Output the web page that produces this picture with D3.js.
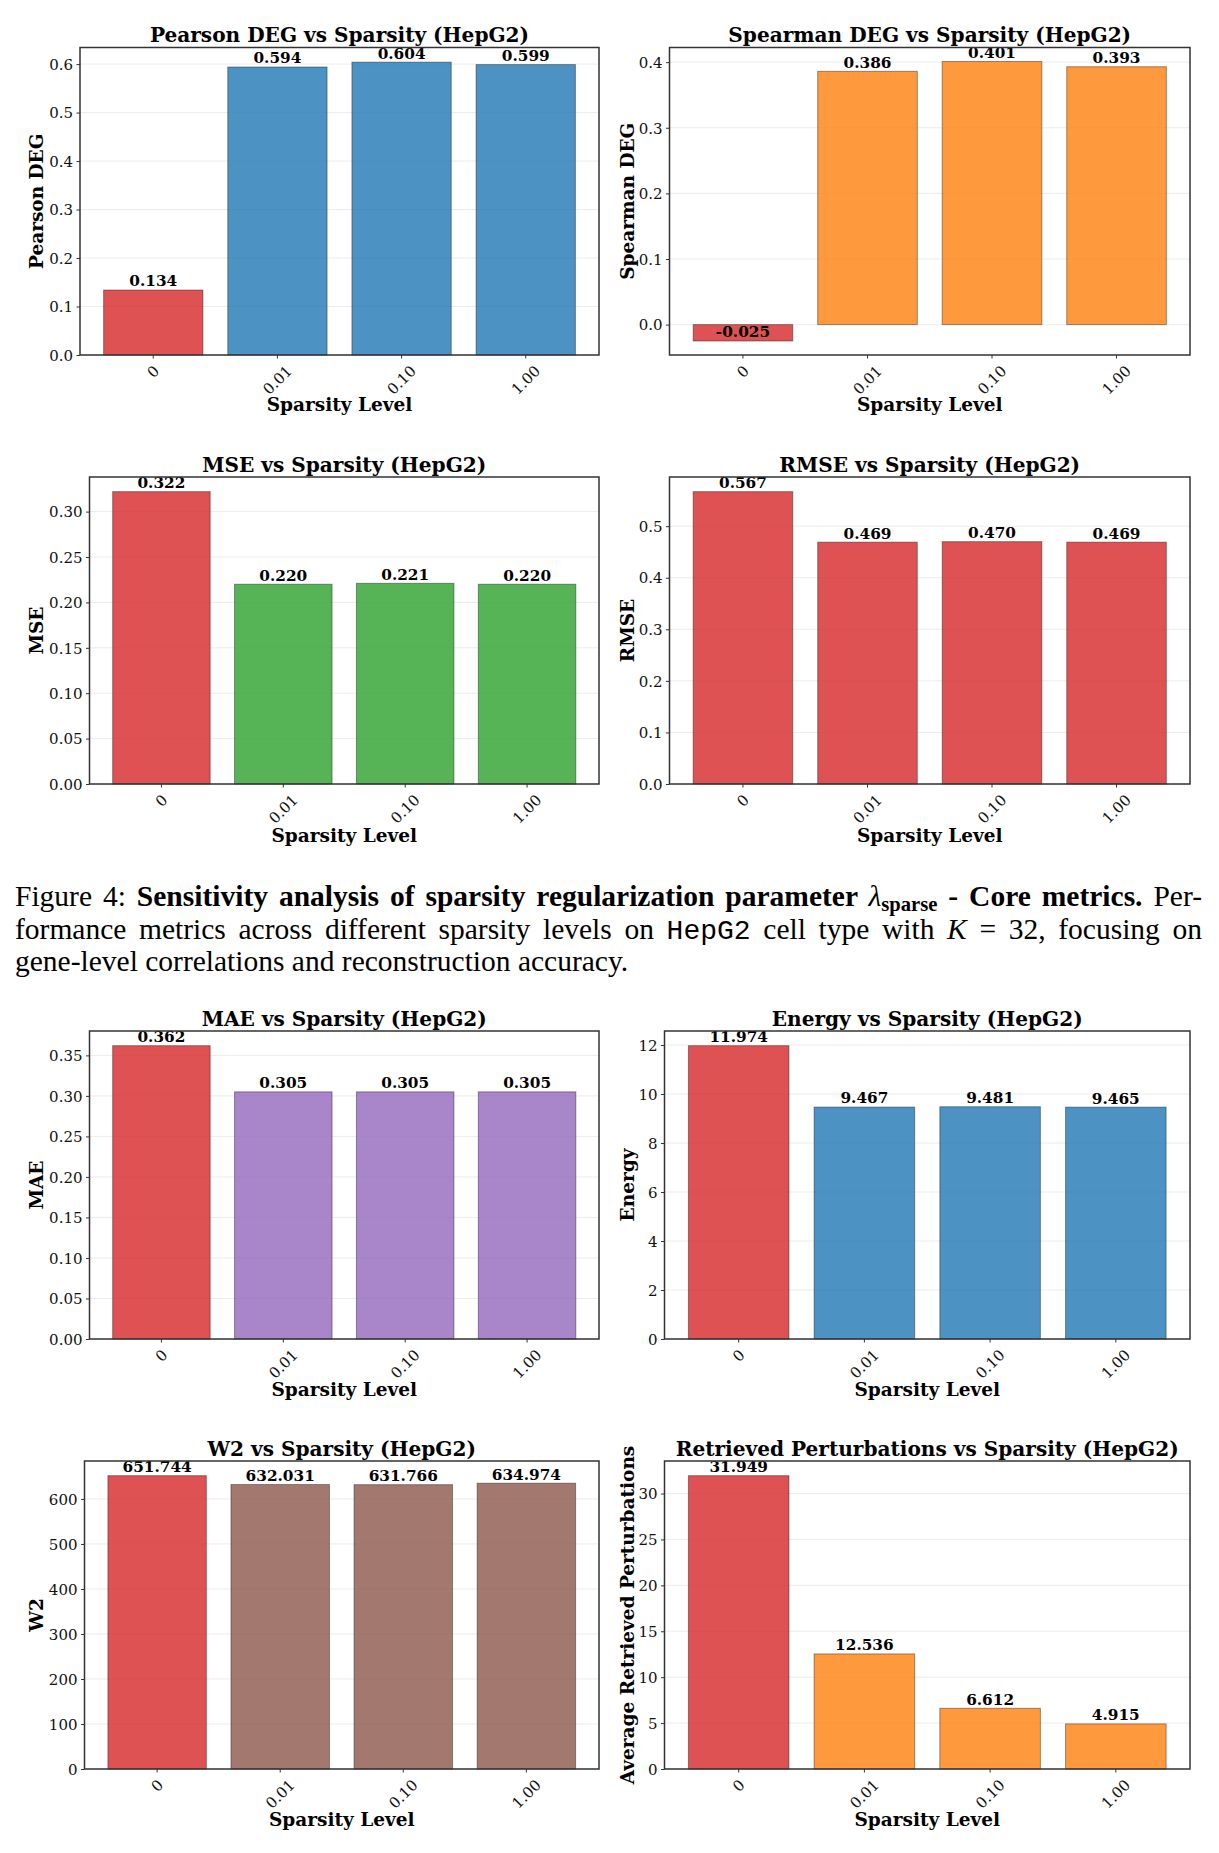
<!DOCTYPE html>
<html>
<head>
<meta charset="utf-8">
<script src="https://cdn.jsdelivr.net/npm/d3@7"></script>
<style>
  body { margin: 0; background: #fff; }
  #page { position: relative; width: 1219px; height: 1853px; overflow: hidden; background: #fff; }
  #chart { position: absolute; left: 0; top: 0; }
  .cap {
    position: absolute; left: 15px; width: 1187px;
    font-family: "Liberation Serif", "Times New Roman", serif;
    font-size: 29.5px; line-height: 30px; color: #000;
    text-align: justify; text-align-last: justify;
  }
  .cap .tt { font-family: "Liberation Mono", monospace; font-size: 0.95em; }
  .cap .sub { font-size: 0.7em; font-weight: bold; vertical-align: -0.22em; }
</style>
</head>
<body>
<div id="page">
  <svg id="chart" width="1219" height="1853"></svg>
  <div class="cap" style="top:881px">Figure 4: <b>Sensitivity analysis of sparsity regularization parameter <i style="font-weight:normal">λ</i><span class="sub">sparse</span> - Core metrics.</b> Per-</div>
  <div class="cap" style="top:913.5px">formance metrics across different sparsity levels on <span class="tt">HepG2</span> cell type with <i>K</i> = 32, focusing on</div>
  <div class="cap" style="top:946px; text-align-last: left">gene-level correlations and reconstruction accuracy.</div>
</div>
<script>
// sparsity levels on the x axis
var categories = ['0', '0.01', '0.10', '1.00'];

// metric values per sparsity level
var pearsonDeg = [0.134, 0.594, 0.604, 0.599];
var spearmanDeg = [-0.025, 0.386, 0.401, 0.393];
var mseVals = [0.322, 0.220, 0.221, 0.220];
var rmseVals = [0.567, 0.469, 0.470, 0.469];
var maeVals = [0.362, 0.305, 0.305, 0.305];
var energyVals = [11.974, 9.467, 9.481, 9.465];
var w2Vals = [651.744, 632.031, 631.766, 634.974];
var retrievedVals = [31.949, 12.536, 6.612, 4.915];

var titles = ['Pearson DEG vs Sparsity (HepG2)', 'Spearman DEG vs Sparsity (HepG2)',
  'MSE vs Sparsity (HepG2)', 'RMSE vs Sparsity (HepG2)',
  'MAE vs Sparsity (HepG2)', 'Energy vs Sparsity (HepG2)',
  'W2 vs Sparsity (HepG2)', 'Retrieved Perturbations vs Sparsity (HepG2)'];
var yLabels = ['Pearson DEG', 'Spearman DEG', 'MSE', 'RMSE', 'MAE', 'Energy', 'W2',
  'Average Retrieved Perturbations'];
var series = [pearsonDeg, spearmanDeg, mseVals, rmseVals, maeVals, energyVals, w2Vals, retrievedVals];
var tickSteps = [0.1, 0.1, 0.05, 0.1, 0.05, 2, 100, 5];
var tickFormats = ['.1f', '.1f', '.2f', '.1f', '.2f', 'd', 'd', 'd'];

var baselineColor = '#d62728';
var barColors = ['#1f77b4', '#ff7f0e', '#2ca02c', '#d62728', '#9467bd', '#1f77b4', '#8c564b', '#ff7f0e'];

// panel boxes: [left, top, right, bottom], title baseline, x label baseline, y label centre
var layout = [
  { box: [80, 47.5, 599, 355], titleY: 42, xlabY: 411, ylabX: 37 },
  { box: [669.5, 47.5, 1190, 355], titleY: 42, xlabY: 411, ylabX: 627.5 },
  { box: [89.5, 477, 599, 784], titleY: 471.5, xlabY: 841.5, ylabX: 37 },
  { box: [669.5, 477, 1190, 784], titleY: 471.5, xlabY: 841.5, ylabX: 627.5 },
  { box: [89.5, 1031, 599, 1339], titleY: 1025.5, xlabY: 1396, ylabX: 37 },
  { box: [664.5, 1031, 1190, 1339], titleY: 1025.5, xlabY: 1396, ylabX: 627.5 },
  { box: [84.5, 1461, 599, 1769], titleY: 1455.5, xlabY: 1826, ylabX: 37 },
  { box: [664.5, 1461, 1190, 1769], titleY: 1455.5, xlabY: 1826, ylabX: 627.5 }
];

var FONT = '"DejaVu Serif", serif';
var TICK_PX = 15;
var svg = d3.select('#chart');

// matplotlib prints a plain hyphen, not the unicode minus d3 uses
function fmt(spec) {
  var f = d3.format(spec);
  return function (d) { return f(d).replace('\u2212', '-'); };
}

function drawPanel(i) {
  var values = series[i];
  var L = layout[i];
  var left = L.box[0], top = L.box[1], right = L.box[2], bottom = L.box[3];
  var g = svg.append('g').attr('class', 'panel');

  var x = d3.scaleBand().domain(categories).range([left, right])
    .paddingInner(0.2).paddingOuter(0.19);

  var vmin = Math.min(0, d3.min(values)), vmax = d3.max(values);
  var pad = 0.05 * (vmax - vmin);
  var lo = vmin < 0 ? vmin - pad : 0;
  var y = d3.scaleLinear().domain([lo, vmax + pad]).range([bottom, top]);

  var step = tickSteps[i];
  var ticks = d3.range(Math.ceil(lo / step - 1e-9), Math.floor((vmax + pad) / step + 1e-9) + 1)
    .map(function (k) { return k * step; });

  // grid
  g.selectAll('.grid').data(ticks).enter().append('line')
    .attr('x1', left).attr('x2', right)
    .attr('y1', function (d) { return y(d); }).attr('y2', function (d) { return y(d); })
    .style('stroke', '#b0b0b0').style('stroke-opacity', 0.3).style('stroke-width', 0.8);

  // bars
  g.selectAll('.bar').data(values).enter().append('rect')
    .attr('x', function (d, j) { return x(categories[j]); })
    .attr('y', function (d) { return y(Math.max(0, d)); })
    .attr('width', x.bandwidth())
    .attr('height', function (d) { return Math.abs(y(d) - y(0)); })
    .style('fill', function (d, j) { return j === 0 ? baselineColor : barColors[i]; })
    .style('fill-opacity', 0.8)
    .style('stroke', '#000').style('stroke-opacity', 0.38).style('stroke-width', 1);

  // value labels
  g.selectAll('.val').data(values).enter().append('text')
    .attr('x', function (d, j) { return x(categories[j]) + x.bandwidth() / 2; })
    .attr('y', function (d) { return y(d) - 3.6; })
    .attr('text-anchor', 'middle')
    .style('font-family', FONT).style('font-weight', 'bold').style('font-size', '15.3px')
    .text(fmt('.3f'));

  // y axis
  var yAxis = g.append('g').attr('transform', 'translate(' + left + ',0)')
    .call(d3.axisLeft(y).tickValues(ticks).tickFormat(fmt(tickFormats[i]))
      .tickSize(3.5).tickPadding(3.5));
  yAxis.select('.domain').remove();
  yAxis.selectAll('line').style('stroke', '#333');
  yAxis.selectAll('text').attr('dy', '0.35em')
    .style('font-family', FONT).style('font-size', TICK_PX + 'px').style('fill', '#111');

  // x axis, labels turned 45 degrees and centred under the tick
  var xAxis = g.append('g').attr('transform', 'translate(0,' + bottom + ')')
    .call(d3.axisBottom(x).tickSize(3.5).tickPadding(3.5));
  xAxis.select('.domain').remove();
  xAxis.selectAll('line').style('stroke', '#333');
  xAxis.selectAll('text')
    .style('font-family', FONT).style('font-size', TICK_PX + 'px').style('fill', '#111')
    .attr('y', null).attr('dy', '0.35em').attr('text-anchor', 'middle')
    .attr('transform', function () {
      var w = this.getComputedTextLength();
      var off = 7 + (w + 1.164 * TICK_PX) / (2 * Math.SQRT2);
      return 'translate(0,' + off + ') rotate(-45)';
    });

  // frame
  g.append('rect')
    .attr('x', left).attr('y', top).attr('width', right - left).attr('height', bottom - top)
    .style('fill', 'none').style('stroke', '#333').style('stroke-width', 1.5);

  var cx = (left + right) / 2, cy = (top + bottom) / 2;
  g.append('text').attr('x', cx).attr('y', L.titleY).attr('text-anchor', 'middle')
    .style('font-family', FONT).style('font-weight', 'bold').style('font-size', '20.1px')
    .text(titles[i]);
  g.append('text').attr('x', cx).attr('y', L.xlabY).attr('text-anchor', 'middle')
    .style('font-family', FONT).style('font-weight', 'bold').style('font-size', '18.5px')
    .text('Sparsity Level');
  g.append('text').attr('text-anchor', 'middle').attr('dy', '0.35em')
    .attr('transform', 'translate(' + L.ylabX + ',' + cy + ') rotate(-90)')
    .style('font-family', FONT).style('font-weight', 'bold').style('font-size', '18.5px')
    .text(yLabels[i]);
}

for (var i = 0; i < series.length; i++) {
  drawPanel(i);
}
</script>
</body>
</html>
